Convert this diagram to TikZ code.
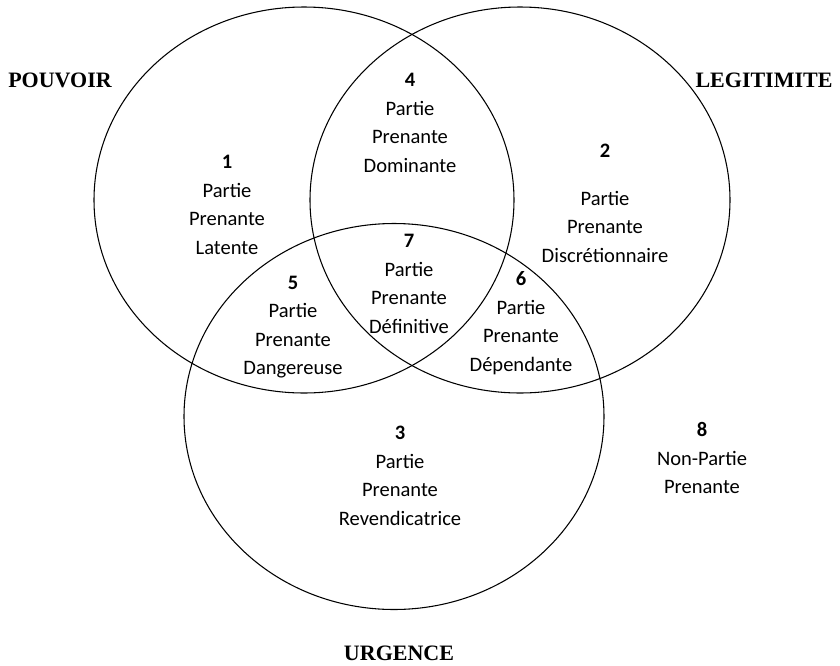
\documentclass[tikz,border=0pt]{standalone}
\usepackage{fontspec}
\setmainfont{Carlito}
\newfontfamily\titlefont{Liberation Serif}
\usepackage{tikz}
\usetikzlibrary{shapes}

\begin{document}
\begin{tikzpicture}[x=0.75pt,y=-0.75pt]
            \tikzstyle{set}=[ellipse,draw,line width=0.8pt,inner sep=0pt,minimum width=315pt,minimum height=289.5pt]
            \tikzstyle{zone}=[align=center,inner sep=0pt,font=\fontsize{15.4}{21.4}\selectfont]
            \tikzstyle{attr}=[inner sep=0pt,font=\titlefont\bfseries\fontsize{16.5}{18}\selectfont]
            \useasboundingbox (0,0) rectangle (840,665);
            % les trois attributs
            \node[set](P) at (304,200){};
            \node[set](L) at (520,200){};
            \node[set](U) at (394,416.5){};
            \node[attr](pouvoir) at (60,80){POUVOIR};
            \node[attr](legitimite) at (764,80){LEGITIMITE};
            \node[attr](urgence) at (399,653){URGENCE};
            % les huit types de parties prenantes
            \node[zone](r1) at (227,205){\textbf{1}\\Partie\\Prenante\\Latente};
            \node[zone](r2) at (605,203){\textbf{2}\\[14.6pt]Partie\\Prenante\\Discrétionnaire};
            \node[zone](r3) at (400,476){\textbf{3}\\Partie\\Prenante\\Revendicatrice};
            \node[zone](r4) at (410,123){\textbf{4}\\Partie\\Prenante\\Dominante};
            \node[zone](r5) at (293,327){\textbf{5}\\Partie\\Prenante\\Dangereuse};
            \node[zone](r6) at (521,323){\textbf{6}\\Partie\\Prenante\\Dépendante};
            \node[zone](r7) at (409,284){\textbf{7}\\Partie\\Prenante\\Définitive};
            \node[zone](r8) at (702,458){\textbf{8}\\Non-Partie\\Prenante};
\end{tikzpicture}
\end{document}
